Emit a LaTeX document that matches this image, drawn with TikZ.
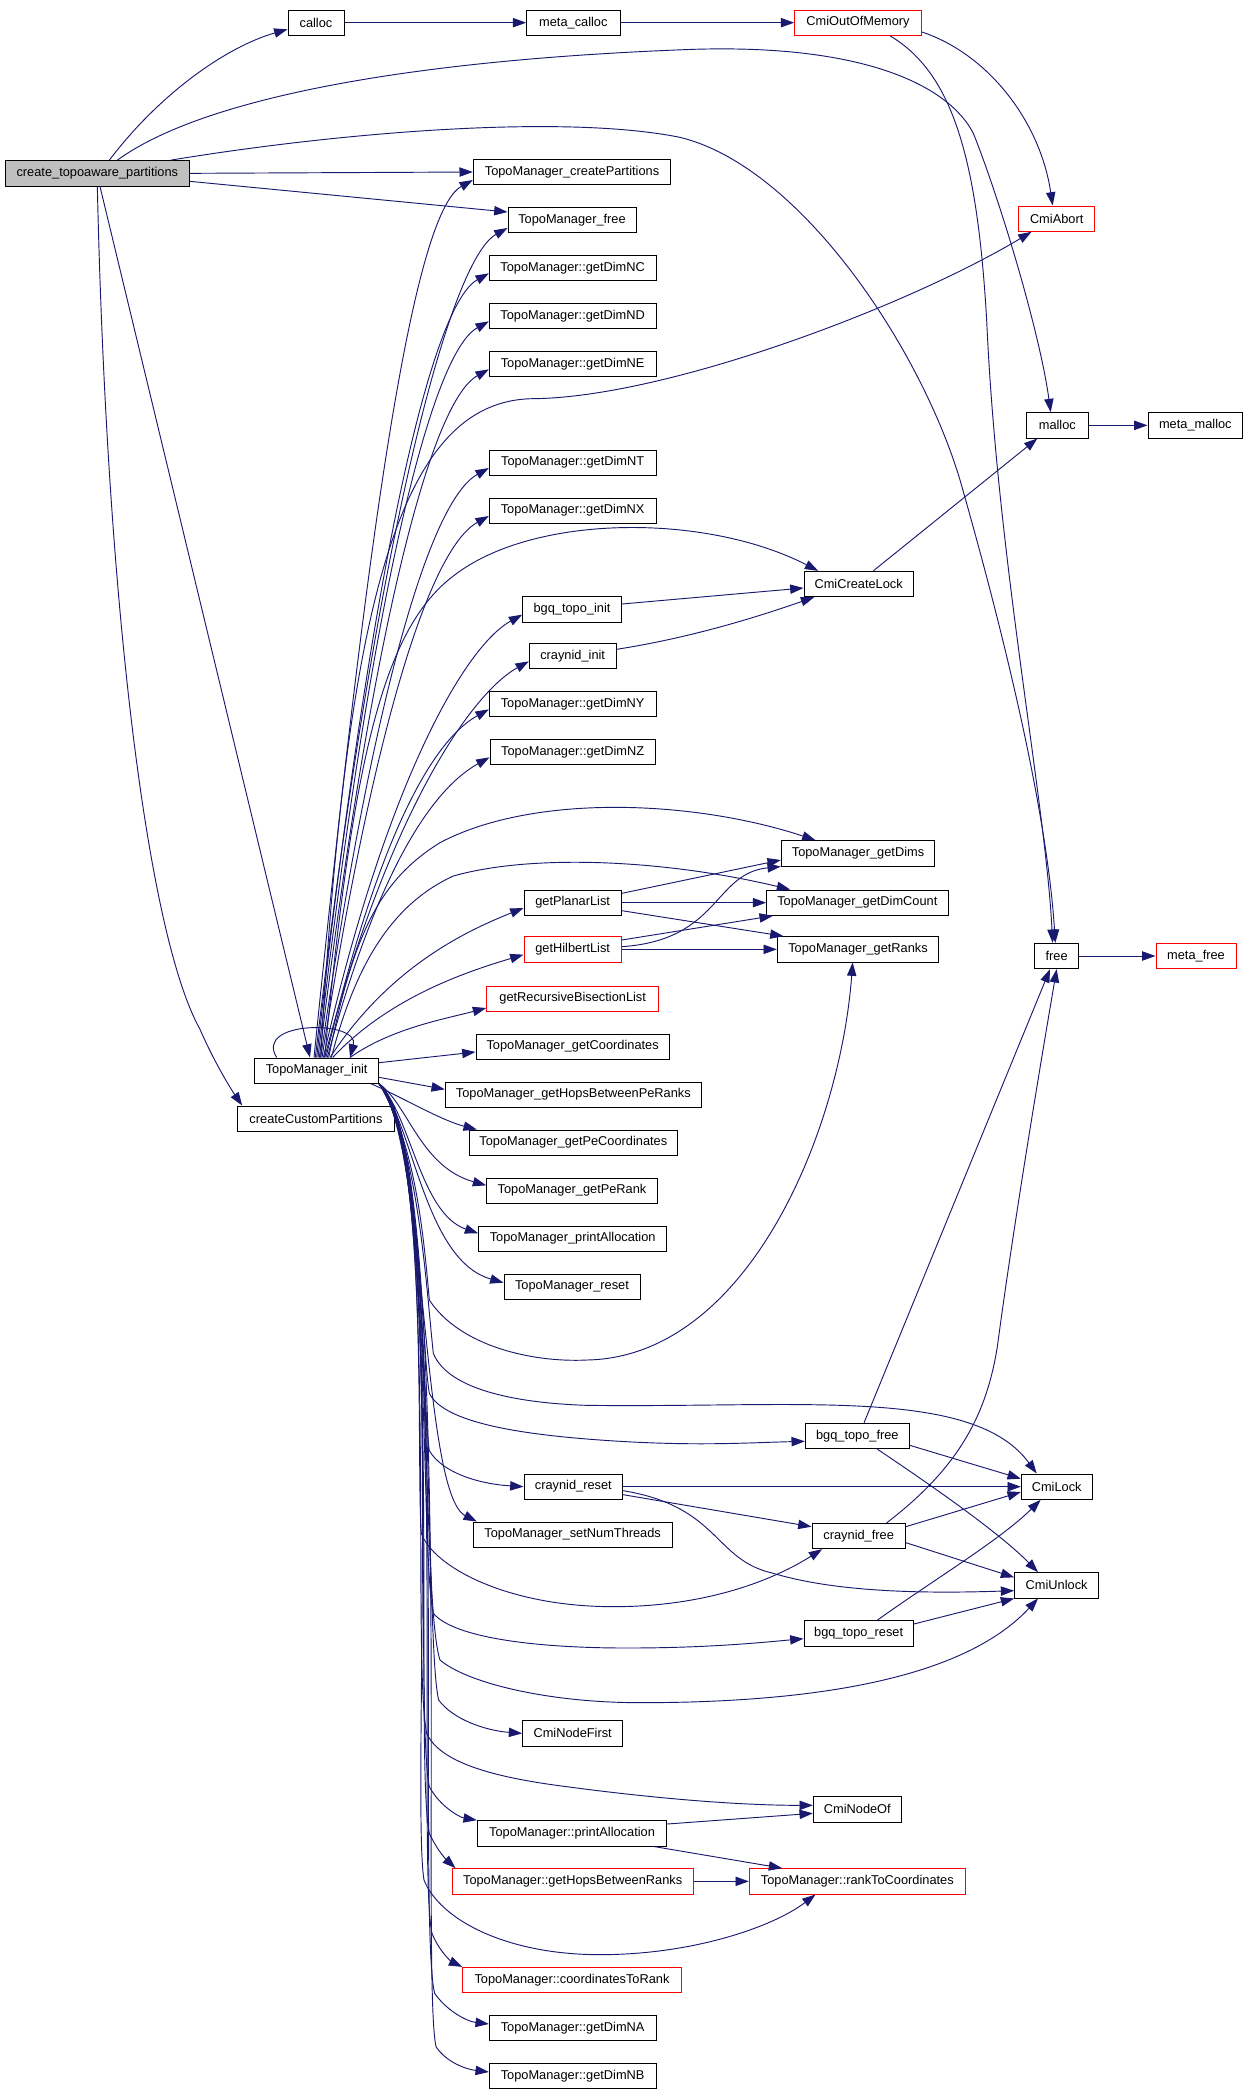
\documentclass[tikz,border=0pt]{standalone}
\usepackage{fontspec}
\setmainfont{Liberation Sans}
\usetikzlibrary{arrows.meta,calc}
\definecolor{edgeblue}{RGB}{25,25,112}
\tikzset{
  fn/.style={draw, line width=0.75pt, minimum height=19pt, inner sep=0pt, font=\fontsize{9.6}{11}\selectfont},
  fnred/.style={fn, draw=red},
  fnroot/.style={fn, fill=black!25},
  call/.style={draw=edgeblue, line width=0.7pt, -{Triangle[length=10pt,width=7pt]}},
}
\begin{document}
\begin{tikzpicture}[x=1pt,y=-1pt]
        % Page
        \fill[white] (0,0) rectangle (936,1569);
        \useasboundingbox (0,0) rectangle (936,1569);
        % Caller and first column
        \node[fnroot, minimum width=138pt] (ctp) at (73,130) {create\_topoaware\_partitions};
        \node[fn, minimum width=42pt] (calloc) at (237,17) {calloc};
        \node[fn, minimum width=93pt] (init) at (237.5,803) {TopoManager\_init};
        \node[fn, minimum width=118pt] (ccp) at (237,839) {createCustomPartitions};
        % Second column
        \node[fn, minimum width=70pt] (metaCalloc) at (430,17) {meta\_calloc};
        \node[fn, minimum width=148pt] (createPartitions) at (429,129) {TopoManager\_createPartitions};
        \node[fn, minimum width=96pt] (TMfree) at (429,165) {TopoManager\_free};
        \node[fn, minimum width=125pt] (DimNC) at (429.5,201) {TopoManager::getDimNC};
        \node[fn, minimum width=125pt] (DimND) at (429.5,237) {TopoManager::getDimND};
        \node[fn, minimum width=125pt] (DimNE) at (429.5,273) {TopoManager::getDimNE};
        \node[fn, minimum width=125pt] (DimNT) at (429.5,347) {TopoManager::getDimNT};
        \node[fn, minimum width=125pt] (DimNX) at (429.5,383) {TopoManager::getDimNX};
        \node[fn, minimum width=74pt] (bgqInit) at (429,457) {bgq\_topo\_init};
        \node[fn, minimum width=65pt] (crayInit) at (429.5,492) {craynid\_init};
        \node[fn, minimum width=125pt] (DimNY) at (429.5,528) {TopoManager::getDimNY};
        \node[fn, minimum width=124pt] (DimNZ) at (429.5,564) {TopoManager::getDimNZ};
        \node[fn, minimum width=73pt] (planar) at (429.5,677) {getPlanarList};
        \node[fnred, minimum width=73pt] (hilbert) at (429.5,712) {getHilbertList};
        \node[fnred, minimum width=129pt] (recBis) at (429.5,749) {getRecursiveBisectionList};
        \node[fn, minimum width=145pt] (getCoord) at (429.5,785) {TopoManager\_getCoordinates};
        \node[fn, minimum width=192pt] (hopsPe) at (430,821) {TopoManager\_getHopsBetweenPeRanks};
        \node[fn, minimum width=156pt] (peCoord) at (430,857) {TopoManager\_getPeCoordinates};
        \node[fn, minimum width=128pt] (peRank) at (429,893) {TopoManager\_getPeRank};
        \node[fn, minimum width=141pt] (printAllocC) at (429.5,929) {TopoManager\_printAllocation};
        \node[fn, minimum width=102pt] (reset) at (429,965) {TopoManager\_reset};
        \node[fn, minimum width=74pt] (crayReset) at (430,1115) {craynid\_reset};
        \node[fn, minimum width=149pt] (setNum) at (429.5,1151) {TopoManager\_setNumThreads};
        \node[fn, minimum width=75pt] (nodeFirst) at (429.5,1300) {CmiNodeFirst};
        \node[fn, minimum width=142pt] (printAlloc) at (429,1375) {TopoManager::printAllocation};
        \node[fnred, minimum width=181pt] (hopsRanks) at (429.5,1411) {TopoManager::getHopsBetweenRanks};
        \node[fnred, minimum width=164pt] (coordToRank) at (429,1485) {TopoManager::coordinatesToRank};
        \node[fn, minimum width=125pt] (DimNA) at (429.5,1521) {TopoManager::getDimNA};
        \node[fn, minimum width=125pt] (DimNB) at (429.5,1557) {TopoManager::getDimNB};
        % Third column
        \node[fnred, minimum width=95pt] (outOfMem) at (643.5,17) {CmiOutOfMemory};
        \node[fn, minimum width=82pt] (createLock) at (644,438) {CmiCreateLock};
        \node[fn, minimum width=115pt] (getDims) at (643.5,640) {TopoManager\_getDims};
        \node[fn, minimum width=136pt] (dimCount) at (643,677) {TopoManager\_getDimCount};
        \node[fn, minimum width=121pt] (getRanks) at (643.5,712) {TopoManager\_getRanks};
        \node[fn, minimum width=78pt] (bgqFree) at (643,1077) {bgq\_topo\_free};
        \node[fn, minimum width=70pt] (crayFree) at (644,1152) {craynid\_free};
        \node[fn, minimum width=82pt] (bgqReset) at (644,1225) {bgq\_topo\_reset};
        \node[fn, minimum width=66pt] (nodeOf) at (643,1357) {CmiNodeOf};
        \node[fnred, minimum width=162pt] (rankToCoord) at (643,1411) {TopoManager::rankToCoordinates};
        % Fourth and fifth column
        \node[fnred, minimum width=57pt] (abort) at (792.5,164) {CmiAbort};
        \node[fn, minimum width=46pt] (malloc) at (793,319) {malloc};
        \node[fn, minimum width=33pt] (free) at (792.5,717) {free};
        \node[fn, minimum width=53pt] (lock) at (792.5,1115) {CmiLock};
        \node[fn, minimum width=63pt] (unlock) at (792.5,1189) {CmiUnlock};
        \node[fn, minimum width=71pt] (metaMalloc) at (896.5,319) {meta\_malloc};
        \node[fnred, minimum width=60pt] (metaFree) at (897,717) {meta\_free};

        % Calls of create_topoaware_partitions
        \draw[call] ($(ctp.north)+(9,0)$) .. controls (120,70) and (170,35) .. ($(calloc.west)+(0,5)$);
        \draw[call] ($(ctp.north)+(15,0)$) .. controls (150,75) and (300,45) .. (520,37)
              .. controls (650,33) and (712,65) .. (730,100)
              .. controls (750,150) and (780,250) .. ($(malloc.north)+(-5,0)$);
        \draw[call] ($(ctp.north)+(55,0)$) .. controls (250,100) and (420,85) .. (510,103)
              .. controls (600,125) and (690,260) .. (720,360)
              .. controls (760,500) and (786,620) .. ($(free.north)+(-1,0)$);
        \draw[call] (ctp.east) -- (createPartitions.west);
        \draw[call] ($(ctp.east)+(0,6)$) -- ($(TMfree.west)+(0,-6)$);
        \draw[call] ($(ctp.south)+(2,0)$) -- ($(init.north)+(-5,0)$);
        \draw[call] (ctp.south) .. controls (80,450) and (110,700) .. (150,772)
              .. controls (160,795) and (172,815) .. ($(ccp.north west)+(4,0)$);

        % Allocation chain
        \draw[call] (calloc) -- (metaCalloc);
        \draw[call] (metaCalloc) -- (outOfMem);
        \draw[call] ($(outOfMem.east)+(0,7)$) .. controls (740,40) and (780,90) .. ($(abort.north)+(-3,0)$);
        \draw[call] ($(outOfMem.south)+(24,0)$) .. controls (715,55) and (733,120) .. (740,240)
              .. controls (748,420) and (784,600) .. ($(free.north)+(-3,0)$);
        \draw[call] (malloc) -- (metaMalloc);
        \draw[call] (free) -- (metaFree);

        % TopoManager_init calls itself
        \draw[call] ($(init.north)+(-30,0)$) .. controls (190,765) and (270,765) .. ($(init.north)+(25,0)$);
        % TopoManager_init: calls fanning out upwards
        \foreach \t/\dx/\ax/\ay/\bx/\by/\ey in {
            createPartitions/-2/40/395/45/25/6, TMfree/-1/43/373/45/25/6,
            DimNC/0/39/353/45/25/4, DimND/1/38/331/45/25/4, DimNE/2/38/310/45/25/4,
            DimNT/3/38/265/45/25/4, DimNX/4/38/244/45/25/4, bgqInit/5/45/199/45/25/4,
            crayInit/6/46/178/45/25/4, DimNY/7/37/157/45/25/4, DimNZ/8/36/135/45/25/4,
            planar/10/44/67/45/18/4, hilbert/12/43/46/40/12/4, recBis/25/31/22/30/8/7}
            \draw[call] ($(init.north)+(\dx,0)$) .. controls +(\ax,-\ay) and +(-\bx,\by) .. ($(\t.west)+(0,\ey)$);
        \draw[call] ($(init.north)+(3,0)$) .. controls (260,450) and (300,300) .. (400,299)
              .. controls (500,298) and (680,230) .. ($(abort.south west)+(10,0)$);
        \draw[call] ($(init.north)+(6,0)$) .. controls (265,560) and (290,470) .. (340,432)
              .. controls (400,385) and (530,385) .. ($(createLock.north west)+(11,0)$);
        \draw[call] ($(init.north)+(9,0)$) .. controls (265,700) and (285,660) .. (330,632)
              .. controls (400,595) and (520,600) .. ($(getDims.north west)+(26,0)$);
        \draw[call] ($(init.north)+(11,0)$) .. controls (265,730) and (290,680) .. (340,657)
              .. controls (400,640) and (500,645) .. ($(dimCount.north west)+(18,0)$);
        % TopoManager_init: calls going right and down
        \draw[call] ($(init.east)+(0,-6)$) -- ($(getCoord.west)+(0,4)$);
        \draw[call] ($(init.east)+(0,5)$) -- ($(hopsPe.west)+(0,-4)$);
        \draw[call] ($(init.south east)+(-6,0)$) .. controls (300,822) and (330,840) .. ($(peCoord.north west)+(6,0)$);
        \draw[call] (init.south east) .. controls (306,828) and (315,875) .. ($(peRank.west)+(0,-4)$);
        \draw[call] (init.south east) .. controls (308,836) and (315,910) .. ($(printAllocC.west)+(0,-4)$);
        \draw[call] (init.south east) .. controls (310,842) and (318,945) .. ($(reset.west)+(0,-3)$);
        \draw[call] (init.south east) .. controls (312,858) and (318,930) .. (322,975)
              .. controls (345,1010) and (400,1022) .. (440,1020)
              .. controls (560,1018) and (630,850) .. ($(getRanks.south)+(-4,0)$);
        \draw[call] (init.south east) .. controls (314,858) and (320,970) .. (325,1015)
              .. controls (335,1040) and (380,1052) .. (440,1054)
              .. controls (600,1056) and (730,1040) .. ($(lock.north)+(-15,0)$);
        \draw[call] (init.south east) .. controls (316,858) and (316,1010) .. (322,1045)
              .. controls (332,1065) and (380,1075) .. (450,1080)
              .. controls (520,1085) and (560,1082) .. ($(bgqFree.west)+(0,4)$);
        \draw[call] (init.south east) .. controls (318,858) and (316,1050) .. (322,1088)
              .. controls (332,1105) and (360,1113) .. (crayReset.west);
        \draw[call] (init.south east) .. controls (320,858) and (316,1120) .. ($(setNum.north west)+(3,0)$);
        \draw[call] (init.south east) .. controls (322,858) and (312,1100) .. (316,1150)
              .. controls (325,1175) and (380,1205) .. (460,1205)
              .. controls (530,1205) and (580,1185) .. ($(crayFree.south west)+(8,0)$);
        \draw[call] (init.south east) .. controls (324,858) and (315,1170) .. (325,1210)
              .. controls (340,1228) and (400,1236) .. (470,1236)
              .. controls (530,1236) and (570,1232) .. ($(bgqReset.west)+(0,4)$);
        \draw[call] (init.south east) .. controls (326,858) and (315,1200) .. (330,1245)
              .. controls (350,1262) and (410,1277) .. (480,1277)
              .. controls (600,1277) and (720,1262) .. ($(unlock.south)+(-14,0)$);
        \draw[call] (init.south east) .. controls (328,858) and (318,1230) .. (329,1275)
              .. controls (340,1290) and (365,1298) .. (nodeFirst.west);
        \draw[call] (init.south east) .. controls (330,858) and (308,1240) .. (320,1300)
              .. controls (330,1322) and (370,1333) .. (425,1340)
              .. controls (500,1350) and (560,1354) .. ($(nodeOf.west)+(0,-3)$);
        \draw[call] (init.south east) .. controls (332,858) and (310,1280) .. (322,1340)
              .. controls (330,1355) and (345,1363) .. (printAlloc.north west);
        \draw[call] (init.south east) .. controls (334,858) and (310,1320) .. (322,1375)
              .. controls (328,1388) and (335,1395) .. ($(hopsRanks.north west)+(3,0)$);
        \draw[call] (init.south east) .. controls (336,858) and (308,1350) .. (318,1410)
              .. controls (330,1440) and (380,1466) .. (450,1466)
              .. controls (520,1466) and (580,1445) .. ($(rankToCoord.south west)+(50,0)$);
        \draw[call] (init.south east) .. controls (338,858) and (312,1400) .. (324,1450)
              .. controls (330,1465) and (340,1472) .. (coordToRank.north west);
        \draw[call] (init.south east) .. controls (340,858) and (312,1440) .. (326,1495)
              .. controls (335,1508) and (350,1516) .. ($(DimNA.west)+(0,-3)$);
        \draw[call] (init.south east) .. controls (342,858) and (315,1480) .. (327,1535)
              .. controls (335,1547) and (350,1552) .. ($(DimNB.west)+(0,-3)$);

        % Locks
        \draw[call] ($(bgqInit.east)+(0,-4)$) -- ($(createLock.west)+(0,3)$);
        \draw[call] ($(crayInit.east)+(0,-5)$) .. controls (520,478) and (570,462) .. ($(createLock.south west)+(8,0)$);
        \draw[call] ($(createLock.north)+(11,0)$) -- ($(malloc.south)+(-15,0)$);
        \draw[call] ($(bgqFree.north)+(5,0)$) -- ($(free.south)+(-5,0)$);
        \draw[call] ($(bgqFree.east)+(0,7)$) -- ($(lock.west)+(0,-6)$);
        \draw[call] ($(bgqFree.south)+(15,0)$) .. controls (700,1115) and (750,1150) .. ($(unlock.north)+(-14,0)$);
        \draw[call] (crayReset.east) -- (lock.west);
        \draw[call] ($(crayReset.east)+(0,6)$) -- ($(crayFree.west)+(0,-7)$);
        \draw[call] ($(crayReset.east)+(0,3)$) .. controls (540,1130) and (535,1170) .. (580,1180)
              .. controls (630,1195) and (700,1195) .. ($(unlock.west)+(0,4)$);
        \draw[call] ($(crayFree.north)+(21,0)$) .. controls (720,1100) and (740,1060) .. (748,1010)
              .. controls (760,920) and (780,800) .. (free.south);
        \draw[call] ($(crayFree.east)+(0,-7)$) -- ($(lock.west)+(0,4)$);
        \draw[call] ($(crayFree.east)+(0,5)$) -- ($(unlock.west)+(0,-6)$);
        \draw[call] ($(bgqReset.north)+(14,0)$) .. controls (700,1185) and (750,1155) .. ($(lock.south)+(-12,0)$);
        \draw[call] ($(bgqReset.east)+(0,-7)$) -- (unlock.south west);

        % Partition lists
        \draw[call] ($(planar.east)+(0,-7)$) -- ($(getDims.west)+(0,5)$);
        \draw[call] (planar.east) -- (dimCount.west);
        \draw[call] ($(planar.east)+(0,6)$) -- ($(getRanks.north west)+(5,0)$);
        \draw[call] ($(hilbert.east)+(0,-2)$) .. controls (540,705) and (535,655) .. (getDims.south west);
        \draw[call] ($(hilbert.east)+(0,-7)$) -- ($(dimCount.south west)+(5,0)$);
        \draw[call] (hilbert.east) -- (getRanks.west);

        % Rank and coordinate helpers
        \draw[call] ($(printAlloc.east)+(0,-7)$) -- ($(nodeOf.west)+(0,3)$);
        \draw[call] ($(printAlloc.south east)+(-10,0)$) -- ($(rankToCoord.north west)+(25,0)$);
        \draw[call] (hopsRanks.east) -- (rankToCoord.west);
\end{tikzpicture}
\end{document}
